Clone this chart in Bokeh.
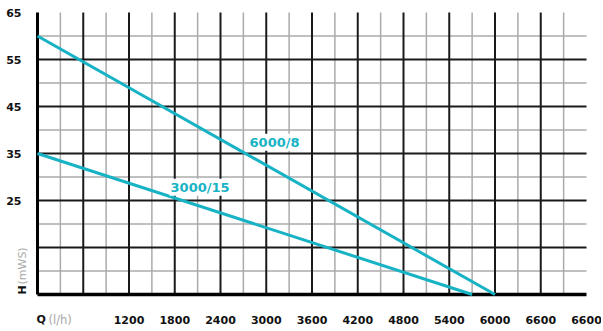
import math
from bokeh.plotting import figure
from bokeh.models import Range1d, Label
from bokeh.core.properties import value
from bokeh.embed import file_html
from bokeh.resources import INLINE

# ---- data ----
q_6000 = [0, 6000]
h_6000 = [60, 5]
q_3000 = [0, 5700]
h_3000 = [35, 5]

series_names = ["6000/8", "3000/15"]
label_x = [2768, 1732]
label_y = [37.4, 27.8]

x_ticks = [1200, 1800, 2400, 3000, 3600, 4200, 4800, 5400, 6000, 6600, 7200]
x_tick_labels = ["1200", "1800", "2400", "3000", "3600", "4200", "4800",
                 "5400", "6000", "6600", "6600"]
y_ticks = [25, 35, 45, 55, 65]
y_tick_labels = ["25", "35", "45", "55", "65"]

x_major_grid = [600 * k for k in range(1, 12)]
x_minor_grid = [300 + 600 * k for k in range(0, 12)]
y_major_grid = [15, 25, 35, 45, 55]
y_minor_grid = [10, 20, 30, 40, 50, 60]

X_MIN, X_MAX = 0, 7200
Y_MIN, Y_MAX = 5, 65

# ---- layout (pixels of the page) ----
W, H = 601, 331
PX_L, PX_R, PY_T, PY_B = 37, 586, 12, 294
ux = (X_MAX - X_MIN) / (PX_R - PX_L)
uy = (Y_MAX - Y_MIN) / (PY_B - PY_T)


def px_x(px):
    return X_MIN + (px - PX_L) * ux


def px_y(py):
    return Y_MIN + (PY_B - py) * uy


TEAL = "#17b3c5"
FONT = value("DejaVu Sans")
DARK = "#111111"
GREY = "#a8a8a8"

p = figure(width=W, height=H, x_range=Range1d(px_x(0), px_x(W)),
           y_range=Range1d(px_y(H), px_y(0)), x_axis_type=None, y_axis_type=None,
           output_backend="svg", toolbar_location=None, min_border=0)
p.outline_line_color = None
p.background_fill_color = "white"
p.border_fill_color = "white"

# grid
p.segment(x0=x_minor_grid, y0=[Y_MIN] * len(x_minor_grid), x1=x_minor_grid,
          y1=[Y_MAX] * len(x_minor_grid), line_color="#ababab", line_width=1.5)
p.segment(x0=[X_MIN] * len(y_minor_grid), y0=y_minor_grid, x1=[X_MAX] * len(y_minor_grid),
          y1=y_minor_grid, line_color="#ababab", line_width=1.5)
p.segment(x0=x_major_grid, y0=[Y_MIN] * len(x_major_grid), x1=x_major_grid,
          y1=[Y_MAX] * len(x_major_grid), line_color="#1a1a1a", line_width=2)
p.segment(x0=[X_MIN] * len(y_major_grid), y0=y_major_grid, x1=[X_MAX] * len(y_major_grid),
          y1=y_major_grid, line_color="#1a1a1a", line_width=2)

# axis lines
p.line([X_MIN, X_MIN], [Y_MIN, Y_MAX], line_color="black", line_width=3)
p.line([X_MIN, X_MAX], [Y_MIN, Y_MIN], line_color="black", line_width=3.5)

# curves
p.line(q_6000, h_6000, line_color=TEAL, line_width=3)
p.line(q_3000, h_3000, line_color=TEAL, line_width=3)

# tick labels
p.text(x=x_ticks, y=[px_y(319)] * len(x_ticks), text=x_tick_labels, text_font=FONT,
       text_font_style="bold", text_font_size="11px", text_color=DARK,
       text_align="center", text_baseline="middle")
p.text(x=[px_x(21)] * len(y_ticks), y=y_ticks, text=y_tick_labels, text_font=FONT,
       text_font_style="bold", text_font_size="11px", text_color=DARK,
       text_align="right", text_baseline="middle")

# axis titles
p.text(x=[px_x(36)], y=[px_y(319)], text=["Q"], text_font=FONT, text_font_style="bold",
       text_font_size="11px", text_color=DARK, text_align="left", text_baseline="middle")
p.text(x=[px_x(48)], y=[px_y(319)], text=["(l/h)"], text_font=FONT,
       text_font_size="11.5px", text_color=GREY, text_align="left",
       text_baseline="middle")
p.text(x=[px_x(21.5)], y=[px_y(294)], text=["H"], text_font=FONT, text_font_style="bold",
       text_font_size="11px", text_color=DARK, text_align="left",
       text_baseline="alphabetic", angle=math.pi / 2)
p.text(x=[px_x(21.5)], y=[px_y(284)], text=["(mWS)"], text_font=FONT,
       text_font_size="11px", text_color=GREY, text_align="left",
       text_baseline="alphabetic", angle=math.pi / 2)

# curve labels
for name, lx, ly in zip(series_names, label_x, label_y):
    p.add_layout(Label(x=lx, y=ly, text=name, text_font="DejaVu Sans",
                       text_font_style="bold", text_font_size="13px", text_color=TEAL,
                       text_align="left", text_baseline="middle",
                       background_fill_color="white", padding=1))

open("out.html", "w").write(file_html(p, INLINE))
